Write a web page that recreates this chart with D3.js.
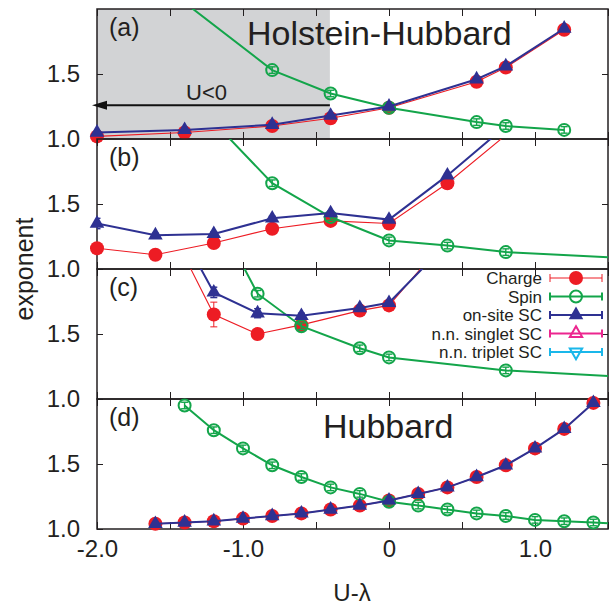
<!DOCTYPE html>
<html><head><meta charset="utf-8">
<script src="https://cdn.jsdelivr.net/npm/d3@7"></script>
<style>body{margin:0;background:#fff}svg{display:block}</style>
</head><body>
<script>
// ---------- data ----------
const xTicks = [-2, -1.5, -1, -0.5, 0, 0.5, 1, 1.5];
const xTickLabels = {"-2": "-2.0", "-1": "-1.0", "0": "0", "1": "1.0"};
const yTicks = [1.0, 1.5];
const panelLabels = ["(a)", "(b)", "(c)", "(d)"];
const legendNames = ["Charge", "Spin", "on-site SC", "n.n. singlet SC", "n.n. triplet SC"];

// (a) Holstein-Hubbard
const xA = [-2.0, -1.4, -0.8, -0.4, 0.0, 0.6, 0.8, 1.2];
const chargeA = [1.02, 1.05, 1.10, 1.16, 1.24, 1.44, 1.55, 1.84];
const scA = [1.05, 1.07, 1.11, 1.18, 1.25, 1.46, 1.56, 1.85];
const errChargeA = [0.01, 0.01, 0.01, 0.01, 0.01, 0.01, 0.01, 0.01];
const errScA = [0.01, 0.01, 0.01, 0.01, 0.01, 0.01, 0.01, 0.01];
const xSpinA = [-1.4, -0.8, -0.4, 0.0, 0.6, 0.8, 1.2];
const spinA = [2.05, 1.53, 1.35, 1.24, 1.13, 1.10, 1.07];
const errSpinA = [0.025, 0.025, 0.025, 0.025, 0.025, 0.025, 0.025];

// (b)
const xB = [-2.0, -1.6, -1.2, -0.8, -0.4, 0.0, 0.4, 0.8];
const chargeB = [1.16, 1.11, 1.20, 1.31, 1.37, 1.35, 1.66, 2.03];
const scB = [1.35, 1.26, 1.27, 1.39, 1.43, 1.38, 1.72, 2.10];
const errChargeB = [0.01, 0.01, 0.01, 0.01, 0.01, 0.01, 0.01, 0.01];
const errScB = [0.04, 0.015, 0.015, 0.015, 0.015, 0.015, 0.015, 0.015];
const xSpinB = [-1.2, -0.8, -0.4, 0.0, 0.4, 0.8, 1.6];
const spinB = [2.13, 1.66, 1.40, 1.22, 1.18, 1.13, 1.085];
const errSpinB = [0.025, 0.025, 0.025, 0.025, 0.025, 0.025, 0.025];

// (c)
const xC = [-1.6, -1.2, -0.9, -0.6, -0.2, 0.0, 0.4];
const chargeC = [2.54, 1.65, 1.50, 1.57, 1.68, 1.72, 2.24];
const scC = [2.64, 1.82, 1.66, 1.64, 1.70, 1.74, 2.20];
const errChargeC = [0.01, 0.095, 0.01, 0.01, 0.01, 0.01, 0.01];
const errScC = [0.01, 0.04, 0.035, 0.02, 0.015, 0.015, 0.015];
const xSpinC = [-1.2, -0.9, -0.6, -0.2, 0.0, 0.8, 1.6];
const spinC = [2.45, 1.81, 1.56, 1.39, 1.32, 1.22, 1.17];
const errSpinC = [0.025, 0.025, 0.025, 0.025, 0.025, 0.025, 0.025];

// (d) Hubbard
const xD = [-1.6, -1.4, -1.2, -1.0, -0.8, -0.6, -0.4, -0.2, 0.0, 0.2, 0.4, 0.6, 0.8, 1.0, 1.2, 1.4];
const chargeD = [1.04, 1.05, 1.06, 1.08, 1.10, 1.12, 1.15, 1.18, 1.22, 1.27, 1.32, 1.40, 1.49, 1.62, 1.77, 1.97];
const scD = [1.04, 1.05, 1.06, 1.08, 1.10, 1.12, 1.15, 1.18, 1.22, 1.27, 1.32, 1.40, 1.49, 1.62, 1.77, 1.97];
const errChargeD = [0.01, 0.01, 0.01, 0.01, 0.01, 0.01, 0.01, 0.01, 0.01, 0.01, 0.01, 0.01, 0.01, 0.01, 0.01, 0.01];
const errScD = [0.01, 0.01, 0.01, 0.01, 0.01, 0.01, 0.01, 0.01, 0.01, 0.01, 0.01, 0.01, 0.01, 0.01, 0.01, 0.01];
const xSpinD = [-1.4, -1.2, -1.0, -0.8, -0.6, -0.4, -0.2, 0.0, 0.2, 0.4, 0.6, 0.8, 1.0, 1.2, 1.4, 1.6];
const spinD = [1.95, 1.76, 1.62, 1.49, 1.40, 1.32, 1.27, 1.21, 1.18, 1.15, 1.12, 1.10, 1.07, 1.06, 1.05, 1.04];
const errSpinD = [0.025, 0.025, 0.025, 0.025, 0.025, 0.025, 0.025, 0.025, 0.025, 0.025, 0.025, 0.025, 0.025, 0.025, 0.025, 0.025];

// n.n. singlet / triplet SC have no visible points
const xSinglet = [], singlet = [];
const xTriplet = [], triplet = [];

// ---------- styles ----------
const styles = {
  charge:  {color: "#ed1c24", lw: 1.1, marker: "circle"},
  spin:    {color: "#13a54a", lw: 2, marker: "ocircle"},
  sc:      {color: "#2e3192", lw: 2, marker: "triangle"},
  singlet: {color: "#ec268f", lw: 2, marker: "otriangle"},
  triplet: {color: "#1ab7ea", lw: 2, marker: "otriangledown"}
};
const legendKeys = ["charge", "spin", "sc", "singlet", "triplet"];

const panels = [
  [{k: "charge", xs: xA, ys: chargeA, es: errChargeA}, {k: "spin", xs: xSpinA, ys: spinA, es: errSpinA}, {k: "sc", xs: xA, ys: scA, es: errScA}],
  [{k: "charge", xs: xB, ys: chargeB, es: errChargeB}, {k: "spin", xs: xSpinB, ys: spinB, es: errSpinB}, {k: "sc", xs: xB, ys: scB, es: errScB}],
  [{k: "charge", xs: xC, ys: chargeC, es: errChargeC}, {k: "spin", xs: xSpinC, ys: spinC, es: errSpinC}, {k: "sc", xs: xC, ys: scC, es: errScC}],
  [{k: "charge", xs: xD, ys: chargeD, es: errChargeD}, {k: "spin", xs: xSpinD, ys: spinD, es: errSpinD}, {k: "sc", xs: xD, ys: scD, es: errScD}]
];

const font = '"Liberation Sans", Arial, Helvetica, sans-serif';
const ink = "#231f20";
const W = 615, H = 608;
const panelTops = [9, 139, 269, 399], PH = 130;
const x = d3.scaleLinear().domain([-2, 1.5]).range([97, 608]);

const svg = d3.select("body").append("svg").attr("width", W).attr("height", H)
  .style("font-family", font);

function drawMarker(g, type, cx, cy, color) {
  if (type === "circle") {
    g.append("circle").attr("cx", cx).attr("cy", cy).attr("r", 7).attr("fill", color);
  } else if (type === "ocircle") {
    g.append("circle").attr("cx", cx).attr("cy", cy).attr("r", 6).attr("fill", "none")
      .attr("stroke", color).attr("stroke-width", 2);
  } else {
    const sym = d3.symbol().type(d3.symbolTriangle).size(type === "triangle" ? 92 : 66);
    const p = g.append("path").attr("d", sym())
      .attr("transform", `translate(${cx},${cy})` + (type === "otriangledown" ? " rotate(180)" : ""));
    if (type === "triangle") p.attr("fill", color);
    else p.attr("fill", "none").attr("stroke", color).attr("stroke-width", 2);
  }
}

panels.forEach((series, i) => {
  const top = panelTops[i];
  const y = d3.scaleLinear().domain([1, 2]).range([top + PH, top]);
  const g = svg.append("g");
  const cid = "clip" + i;
  svg.append("clipPath").attr("id", cid).append("rect")
    .attr("x", x(-2)).attr("y", top).attr("width", x(1.5) - x(-2)).attr("height", PH);

  if (i === 0) {
    g.append("rect").attr("x", x(-2)).attr("y", top).attr("width", x(-0.405) - x(-2)).attr("height", PH)
      .attr("fill", "#d2d3d5");
  }

  // axes
  const fmtX = d => (i === 3 && xTickLabels[String(d)] !== undefined) ? xTickLabels[String(d)] : "";
  const ab = g.append("g").attr("transform", `translate(0,${top + PH})`)
    .call(d3.axisBottom(x).tickValues(xTicks).tickSizeInner(-7).tickSizeOuter(0).tickPadding(11).tickFormat(fmtX));
  const at = g.append("g").attr("transform", `translate(0,${top})`)
    .call(d3.axisTop(x).tickValues(xTicks).tickSizeInner(-7).tickSizeOuter(0).tickFormat(""));
  const al = g.append("g").attr("transform", `translate(${x(-2)},0)`)
    .call(d3.axisLeft(y).tickValues(yTicks).tickSizeInner(-6).tickSizeOuter(0).tickPadding(17).tickFormat(d3.format(".1f")));
  const ar = g.append("g").attr("transform", `translate(${x(1.5)},0)`)
    .call(d3.axisRight(y).tickValues([1.5]).tickSizeInner(-6).tickSizeOuter(0).tickFormat(""));
  [ab, at, al, ar].forEach(a => {
    a.select(".domain").remove();
    a.selectAll("line").attr("stroke", ink).attr("stroke-width", 1);
    a.selectAll("text").attr("fill", ink).style("font-size", "24px").style("font-family", font);
  });

  g.append("rect").attr("x", x(-2)).attr("y", top).attr("width", x(1.5) - x(-2)).attr("height", PH)
    .attr("fill", "none").attr("stroke", ink).attr("stroke-width", 1.5);

  // series
  const inside = (xv, yv) => yv >= 0.99 && yv <= 2.005 && xv >= -2.01 && xv <= 1.5;
  series.forEach(s => {
    const st = styles[s.k];
    const pts = s.xs.map((xv, j) => [xv, s.ys[j], s.es[j]]);
    const line = d3.line().x(d => x(d[0])).y(d => y(d[1]));
    const sg = g.append("g");
    sg.append("path").attr("d", line(pts)).attr("fill", "none").attr("stroke", st.color)
      .attr("stroke-width", st.lw).attr("clip-path", `url(#${cid})`);
    const eg = sg.append("g").attr("clip-path", `url(#${cid})`);
    pts.filter(d => inside(d[0], d[1])).forEach(d => {
      const cx = x(d[0]), y1 = y(d[1] - d[2]), y2 = y(d[1] + d[2]);
      const ew = s.k === "charge" ? 1 : 1.4;
      eg.append("line").attr("x1", cx).attr("x2", cx).attr("y1", y1).attr("y2", y2).attr("stroke", st.color).attr("stroke-width", ew);
      eg.append("line").attr("x1", cx - 3.5).attr("x2", cx + 3.5).attr("y1", y1).attr("y2", y1).attr("stroke", st.color).attr("stroke-width", ew);
      eg.append("line").attr("x1", cx - 3.5).attr("x2", cx + 3.5).attr("y1", y2).attr("y2", y2).attr("stroke", st.color).attr("stroke-width", ew);
    });
    pts.filter(d => inside(d[0], d[1])).forEach(d => drawMarker(sg, st.marker, x(d[0]), y(d[1]), st.color));
  });

  g.append("text").attr("x", 109).attr("y", top + 27).attr("fill", ink)
    .style("font-size", "25px").text(panelLabels[i]);

  if (i === 0) {
    // U<0 arrow
    const ay = y(1.26);
    g.append("line").attr("x1", x(-0.405)).attr("x2", 106).attr("y1", ay).attr("y2", ay)
      .attr("stroke", "#111").attr("stroke-width", 2);
    g.append("path").attr("d", `M${x(-2) - 5},${ay} L${x(-2) + 10},${ay - 4.5} L${x(-2) + 10},${ay + 4.5} Z`).attr("fill", "#111");
    g.append("text").attr("x", x(-1.25)).attr("y", y(1.3)).attr("text-anchor", "middle")
      .attr("fill", ink).style("font-size", "22px").text("U<0");
    g.append("text").attr("x", 247).attr("y", top + 36).attr("fill", ink)
      .style("font-size", "34px").text("Holstein-Hubbard");
  }
  if (i === 3) {
    g.append("text").attr("x", 323).attr("y", top + 39).attr("fill", ink)
      .style("font-size", "34px").text("Hubbard");
  }
  if (i === 2) {
    const lg = g.append("g");
    legendKeys.forEach((k, j) => {
      const st = styles[k];
      const ly = 278 + j * 18.5;
      lg.append("text").attr("x", 542).attr("y", ly).attr("dy", "0.36em").attr("text-anchor", "end")
        .attr("fill", ink).style("font-size", "17px").text(legendNames[j]);
      const w = k === "charge" ? 1 : 2;
      lg.append("line").attr("x1", 550).attr("x2", 602).attr("y1", ly).attr("y2", ly).attr("stroke", st.color).attr("stroke-width", w);
      lg.append("line").attr("x1", 550).attr("x2", 550).attr("y1", ly - 4).attr("y2", ly + 4).attr("stroke", st.color).attr("stroke-width", w);
      lg.append("line").attr("x1", 602).attr("x2", 602).attr("y1", ly - 4).attr("y2", ly + 4).attr("stroke", st.color).attr("stroke-width", w);
      drawMarker(lg, st.marker, 576, ly, st.color);
    });
  }
});

svg.append("text").attr("transform", "translate(33,269) rotate(-90)").attr("text-anchor", "middle")
  .attr("fill", ink).style("font-size", "25px").text("exponent");
svg.append("text").attr("x", 352).attr("y", 601).attr("text-anchor", "middle")
  .attr("fill", ink).style("font-size", "24px").text("U-λ");
</script>
</body></html>
